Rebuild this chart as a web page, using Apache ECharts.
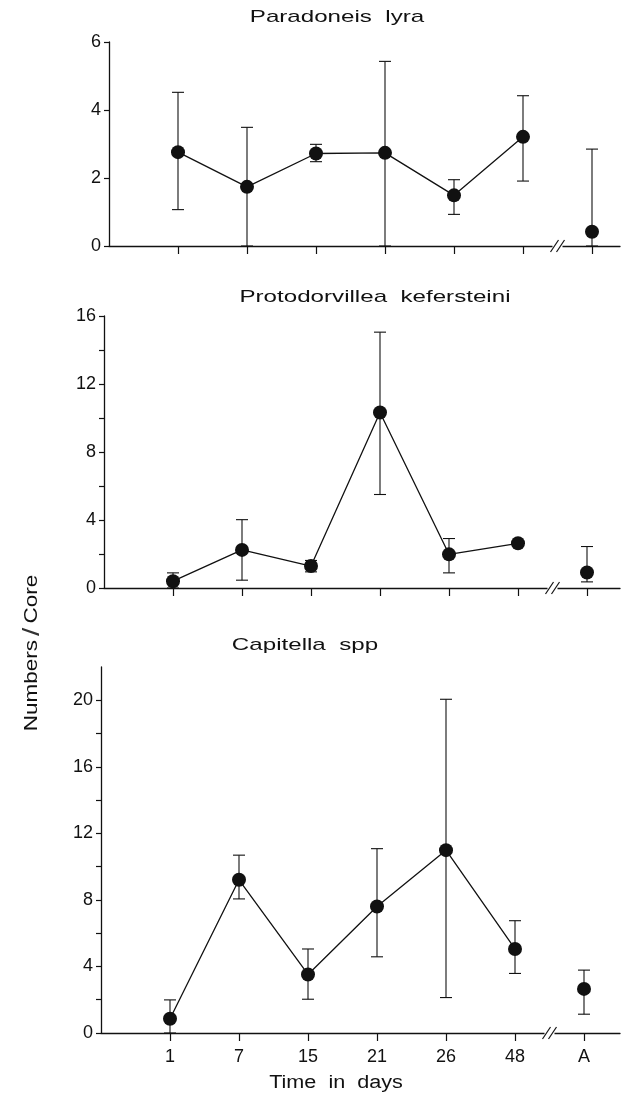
<!DOCTYPE html>
<html>
<head>
<meta charset="utf-8">
<script src="https://cdn.jsdelivr.net/npm/echarts@6/dist/echarts.min.js"></script>
<style>
  html, body { margin: 0; padding: 0; background: #fff; }
  #chart { width: 622px; height: 1093px; }
</style>
</head>
<body>
<div id="chart"></div>
<script>
// sampling days, A = last point after the axis break
const days = ['1', '7', '15', '21', '26', '48', 'A']
const dayPos = [1, 2, 3, 4, 5, 6, 7]

// Paradoneis lyra
const lyraMean = [2.76, 1.74, 2.72, 2.74, 1.49, 3.21, 0.42]
const lyraLow = [1.07, 0, 2.48, 0, 0.93, 1.91, 0]
const lyraHigh = [4.52, 3.49, 2.99, 5.43, 1.95, 4.42, 2.85]

// Protodorvillea kefersteini
const protoMean = [0.40, 2.24, 1.29, 10.32, 1.98, 2.63, 0.91]
const protoLow = [0, 0.46, 0.95, 5.5, 0.89, null, 0.36]
const protoHigh = [0.89, 4.02, 1.62, 15.05, 2.91, null, 2.44]

// Capitella spp
const capMean = [0.86, 9.21, 3.52, 7.60, 10.99, 5.05, 2.65]
const capLow = [0, 8.06, 2.03, 4.58, 2.13, 3.58, 1.13]
const capHigh = [1.99, 10.69, 5.05, 11.08, 20.06, 6.75, 3.78]

const panelTitles = ['Paradoneis  lyra', 'Protodorvillea  kefersteini', 'Capitella  spp']
const yMax = [6, 16, 22]
const yLabels = [[0, 2, 4, 6], [0, 4, 8, 12, 16], [0, 4, 8, 12, 16, 20]]
const yTicks = [[0, 2, 4, 6], [0, 2, 4, 6, 8, 10, 12, 14, 16], [0, 2, 4, 6, 8, 10, 12, 14, 16, 18, 20]]

const ink = '#111'
const font = '"Liberation Sans", Arial, sans-serif'
// the scanned panels are a little skewed, so each one has its own left edge
const step = 69
const grids = [
    { left: 109, top: 42, width: 511, height: 204 },
    { left: 104, top: 316, width: 516, height: 272 },
    { left: 101, top: 667, width: 519, height: 366 }
]
const breakAt = 6.5

const chart = echarts.init(document.getElementById('chart'))

const errRender = (params, api) => {
    const x = api.value(0)
    const top = api.coord([x, api.value(2)])
    const bot = api.coord([x, api.value(1)])
    const w = 6
    const st = { stroke: ink, lineWidth: 1.1 }
    return {
        type: 'group',
        children: [
            { type: 'line', shape: { x1: top[0], y1: top[1], x2: bot[0], y2: bot[1] }, style: st },
            { type: 'line', shape: { x1: top[0] - w, y1: top[1], x2: top[0] + w, y2: top[1] }, style: st },
            { type: 'line', shape: { x1: bot[0] - w, y1: bot[1], x2: bot[0] + w, y2: bot[1] }, style: st }
        ]
    }
}

const panels = [
    [lyraMean, lyraLow, lyraHigh],
    [protoMean, protoLow, protoHigh],
    [capMean, capLow, capHigh]
]

const xAxis = grids.map((g, i) => ({
    type: 'value',
    gridIndex: i,
    min: 0,
    max: g.width / step,
    interval: 1,
    splitLine: { show: false },
    axisLine: { lineStyle: { color: ink, width: 1.3 } },
    axisTick: { show: true, inside: false, length: 8, customValues: dayPos, lineStyle: { color: ink, width: 1.2 } },
    axisLabel: {
        show: i === 2,
        customValues: dayPos,
        formatter: v => days[v - 1] || '',
        color: ink,
        fontFamily: font,
        fontSize: 18,
        margin: 15
    }
}))

const yAxis = grids.map((g, i) => ({
    type: 'value',
    gridIndex: i,
    min: 0,
    max: yMax[i],
    interval: 2,
    splitLine: { show: false },
    axisLine: { lineStyle: { color: ink, width: 1.3 } },
    axisTick: { show: true, length: 5, customValues: yTicks[i], lineStyle: { color: ink, width: 1.2 } },
    axisLabel: {
        customValues: yLabels[i],
        color: ink,
        fontFamily: font,
        fontSize: 18,
        margin: 8
    }
}))

const series = []
panels.forEach((p, i) => {
    const [mean, low, high] = p
    series.push({
        type: 'custom',
        xAxisIndex: i,
        yAxisIndex: i,
        renderItem: errRender,
        data: dayPos.map((x, k) => low[k] == null ? null : [x, low[k], high[k]]).filter(d => d),
        z: 2
    })
    series.push({
        type: 'line',
        xAxisIndex: i,
        yAxisIndex: i,
        data: dayPos.slice(0, 6).map((x, k) => [x, mean[k]]),
        symbol: 'none',
        lineStyle: { color: ink, width: 1.3 },
        z: 3
    })
    series.push({
        type: 'scatter',
        xAxisIndex: i,
        yAxisIndex: i,
        data: dayPos.map((x, k) => [x, mean[k]]),
        symbol: 'circle',
        symbolSize: 14,
        itemStyle: { color: ink, opacity: 1 },
        z: 4
    })
})

chart.setOption({
    backgroundColor: '#fff',
    animation: false,
    grid: grids,
    xAxis: xAxis,
    yAxis: yAxis,
    series: series
})

// titles are spaced out in the original, so stretch them a bit
const titleX = [337, 375, 305]
const titleY = [17, 297, 645]
const graphics = panelTitles.map((t, i) => ({
    type: 'text',
    x: titleX[i],
    y: titleY[i],
    scaleX: 1.42,
    style: { text: t, fill: ink, font: '17px ' + font, align: 'center', verticalAlign: 'middle' }
}))
graphics.push({
    type: 'text',
    x: 336,
    y: 1083,
    scaleX: 1.2,
    style: { text: 'Time  in  days', fill: ink, font: '18px ' + font, align: 'center', verticalAlign: 'middle' }
})
graphics.push({
    type: 'text',
    x: 32,
    y: 653,
    rotation: Math.PI / 2,
    scaleX: 1.25,
    style: {
        text: '{a|Numbers} {b|/} {a|Core}',
        align: 'center',
        verticalAlign: 'middle',
        rich: {
            a: { fill: ink, fontSize: 18, fontFamily: font },
            b: { fill: '#333', fontSize: 24, fontFamily: font, fontWeight: 'normal' }
        }
    }
})
// axis break marks
grids.forEach((g, i) => {
    const p = chart.convertToPixel({ xAxisIndex: i, yAxisIndex: i }, [breakAt, 0])
    graphics.push({ type: 'rect', shape: { x: p[0] - 5, y: p[1] - 3, width: 10, height: 6 }, style: { fill: '#fff' }, z: 10 })
    ;[-3, 3].forEach(d => {
        graphics.push({
            type: 'line',
            shape: { x1: p[0] + d - 4, y1: p[1] + 6, x2: p[0] + d + 4, y2: p[1] - 6 },
            style: { stroke: ink, lineWidth: 1.2 },
            z: 11
        })
    })
})
chart.setOption({ graphic: graphics })
</script>
</body>
</html>
